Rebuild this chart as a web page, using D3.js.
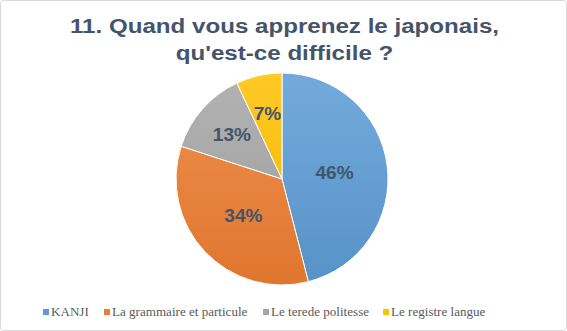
<!DOCTYPE html>
<html><head><meta charset="utf-8">
<script src="https://cdn.jsdelivr.net/npm/d3@7"></script>
<style>body{margin:0;background:#fff}svg{display:block}</style>
</head><body>
<svg id="c" width="567" height="331"></svg>
<script>
const categories = ["KANJI", "La grammaire et particule", "Le terede politesse", "Le registre langue"];
const values = [46, 34, 13, 7];
const colors = ["#5B9BD5", "#ED7D31", "#A5A5A5", "#FFC000"];
const titleLines = ["11. Quand vous apprenez le japonais,", "qu'est-ce difficile ?"];
const labelRadiusFrac = [0.5, 0.5, 0.63, 0.63];

const svg = d3.select("#c");
svg.append("rect").attr("x",0.5).attr("y",0.5).attr("width",566).attr("height",330)
  .attr("rx",3).attr("fill","#fff").attr("stroke","#D9D9D9");

const defs = svg.append("defs");
colors.forEach((c,i)=>{
  const g = defs.append("linearGradient").attr("id","g"+i).attr("gradientUnits","userSpaceOnUse")
    .attr("x1",0).attr("y1",-106).attr("x2",0).attr("y2",106);
  g.append("stop").attr("offset","0%").attr("stop-color",d3.interpolateRgb(c,"#fff")(0.15));
  g.append("stop").attr("offset","100%").attr("stop-color",d3.interpolateRgb(c,"#000")(0.06));
});

const tg = svg.append("g").attr("transform","translate(284.5,0) scale(1.15,1)");
tg.selectAll("text.title").data(titleLines).join("text").attr("class","title")
  .attr("x",0).attr("y",(d,i)=>33+i*27).attr("text-anchor","middle")
  .attr("font-family","Liberation Sans, Arial, sans-serif").attr("font-weight","bold")
  .attr("font-size",21).attr("fill","#44546A").text(d=>d);

const cx=282, cy=179, r=106;
const pie = d3.pie().sort(null).value(d=>d);
const arcs = pie(values);
const arc = d3.arc().innerRadius(0).outerRadius(r);
const g = svg.append("g").attr("transform",`translate(${cx},${cy})`);
g.selectAll("path").data(arcs).join("path").attr("d",arc)
  .attr("fill",(d,i)=>`url(#g${i})`).attr("stroke","#fff").attr("stroke-width",1);
const total = d3.sum(values);
g.selectAll("text").data(arcs).join("text")
  .attr("transform",(d,i)=>{
    const lr = r*labelRadiusFrac[i];
    const c = d3.arc().innerRadius(lr).outerRadius(lr).centroid(d);
    return `translate(${c}) scale(1.06,1)`;
  })
  .attr("text-anchor","middle").attr("dy","0.35em")
  .attr("font-family","Liberation Sans, Arial, sans-serif").attr("font-weight","bold")
  .attr("font-size",18).attr("fill","#44546A")
  .text(d=>Math.round(d.data/total*100)+"%");

const legendX = [43, 104, 263, 383];
const lg = svg.append("g");
categories.forEach((c,i)=>{
  lg.append("rect").attr("x",legendX[i]).attr("y",309).attr("width",6).attr("height",6).attr("fill",colors[i]);
  lg.append("text").attr("transform",`translate(${legendX[i]+8},316) scale(1.09,1)`)
    .attr("font-family","Liberation Serif, Times New Roman, serif").attr("font-size",12)
    .attr("fill","#595959").text(c);
});
</script>
</body></html>
